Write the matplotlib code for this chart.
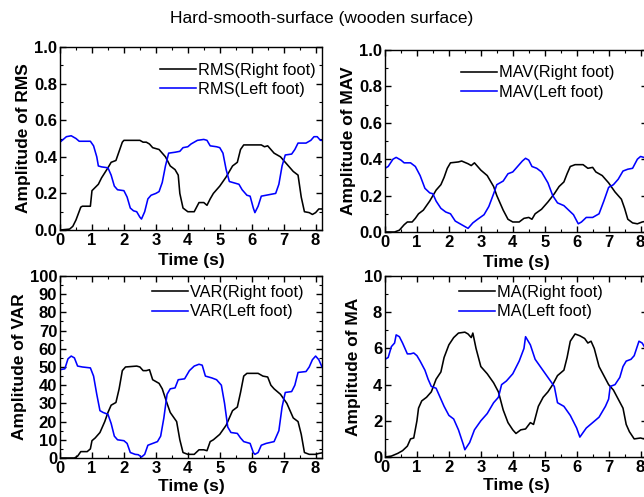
import matplotlib
matplotlib.use("Agg")
import matplotlib.pyplot as plt
from matplotlib.ticker import MultipleLocator, FormatStrFormatter

plt.rcParams['font.family'] = ['Liberation Sans', 'DejaVu Sans']

# ---------------- RMS ----------------
rms_right_t = [0, 0.3, 0.4, 0.5, 0.65, 0.7, 0.95, 1.0, 1.2, 1.3, 1.5, 1.6, 1.75, 1.85, 1.95, 2.0, 2.5,
               2.6, 2.7, 2.8, 2.9, 3.1, 3.3, 3.45, 3.6, 3.7, 3.75, 3.85, 4.0, 4.2, 4.35, 4.5, 4.6, 4.7,
               4.8, 5.0, 5.2, 5.4, 5.55, 5.65, 5.75, 6.3, 6.4, 6.5, 6.6, 6.7, 6.9, 7.1, 7.3, 7.45, 7.55,
               7.65, 7.8, 7.9, 8.0, 8.1, 8.2]
rms_right_y = [0.0, 0.005, 0.02, 0.055, 0.125, 0.13, 0.13, 0.215, 0.25, 0.285, 0.34, 0.37, 0.38, 0.43, 0.48,
               0.49, 0.49, 0.48, 0.48, 0.47, 0.45, 0.44, 0.40, 0.35, 0.33, 0.30, 0.20, 0.12, 0.10, 0.10,
               0.15, 0.15, 0.135, 0.17, 0.20, 0.24, 0.29, 0.35, 0.37, 0.44, 0.465, 0.465, 0.455, 0.46,
               0.44, 0.42, 0.40, 0.36, 0.32, 0.30, 0.18, 0.10, 0.095, 0.085, 0.095, 0.115, 0.115]
rms_left_t = [0, 0.2, 0.35, 0.5, 0.6, 0.95, 1.05, 1.15, 1.2, 1.3, 1.5, 1.6, 1.7, 1.8, 2.0, 2.1, 2.2, 2.3,
              2.4, 2.5, 2.55, 2.65, 2.75, 2.85, 3.0, 3.1, 3.2, 3.3, 3.4, 3.6, 3.75, 3.85, 4.0, 4.1, 4.3,
              4.5, 4.6, 4.7, 4.9, 5.0, 5.1, 5.2, 5.3, 5.5, 5.6, 5.7, 5.85, 5.95, 6.05, 6.1, 6.2, 6.3,
              6.45, 6.6, 6.75, 6.85, 6.95, 7.05, 7.25, 7.35, 7.45, 7.7, 7.85, 7.95, 8.05, 8.15, 8.2]
rms_left_y = [0.48, 0.51, 0.515, 0.50, 0.485, 0.485, 0.46, 0.40, 0.35, 0.345, 0.34, 0.30, 0.24, 0.22,
              0.215, 0.18, 0.12, 0.105, 0.10, 0.07, 0.06, 0.10, 0.17, 0.19, 0.20, 0.21, 0.26, 0.35, 0.42,
              0.425, 0.43, 0.45, 0.455, 0.47, 0.49, 0.495, 0.49, 0.46, 0.455, 0.45, 0.42, 0.33, 0.265,
              0.255, 0.25, 0.22, 0.19, 0.185, 0.12, 0.095, 0.13, 0.185, 0.19, 0.195, 0.20, 0.25, 0.35,
              0.41, 0.415, 0.44, 0.475, 0.475, 0.49, 0.51, 0.51, 0.49, 0.49]

# ---------------- MAV ----------------
mav_right_t = [0, 0.3, 0.45, 0.6, 0.7, 0.85, 0.95, 1.05, 1.2, 1.4, 1.6, 1.75, 1.85, 1.95, 2.05, 2.3, 2.4,
               2.6, 2.7, 2.8, 3.0, 3.2, 3.4, 3.5, 3.7, 3.85, 4.0, 4.2, 4.35, 4.5, 4.6, 4.7, 4.9, 5.1,
               5.3, 5.45, 5.6, 5.7, 5.8, 5.95, 6.2, 6.35, 6.5, 6.6, 6.8, 7.0, 7.2, 7.4, 7.5, 7.6, 7.75,
               7.9, 8.05, 8.2]
mav_right_y = [0.0, 0.0, 0.01, 0.04, 0.055, 0.055, 0.075, 0.10, 0.12, 0.17, 0.23, 0.26, 0.30, 0.35, 0.38,
               0.385, 0.39, 0.375, 0.365, 0.38, 0.34, 0.31, 0.25, 0.20, 0.12, 0.07, 0.055, 0.055, 0.075,
               0.08, 0.07, 0.10, 0.125, 0.165, 0.21, 0.25, 0.275, 0.32, 0.36, 0.37, 0.37, 0.35, 0.355,
               0.33, 0.31, 0.27, 0.22, 0.18, 0.13, 0.07, 0.05, 0.045, 0.055, 0.06]
mav_left_t = [0, 0.1, 0.25, 0.35, 0.5, 0.6, 0.8, 0.95, 1.1, 1.25, 1.4, 1.5, 1.6, 1.75, 1.9, 2.05, 2.2,
              2.35, 2.5, 2.6, 2.75, 2.9, 3.1, 3.25, 3.4, 3.5, 3.7, 3.85, 4.0, 4.15, 4.3, 4.4, 4.5, 4.6,
              4.75, 4.9, 5.1, 5.25, 5.4, 5.6, 5.75, 5.9, 6.05, 6.15, 6.3, 6.5, 6.7, 6.85, 7.0, 7.15,
              7.3, 7.45, 7.6, 7.75, 7.9, 8.0, 8.1, 8.2]
mav_left_y = [0.35, 0.36, 0.40, 0.41, 0.395, 0.38, 0.38, 0.36, 0.31, 0.24, 0.215, 0.21, 0.17, 0.13, 0.11,
              0.10, 0.06, 0.045, 0.03, 0.02, 0.05, 0.07, 0.095, 0.14, 0.21, 0.26, 0.28, 0.32, 0.33, 0.36,
              0.39, 0.405, 0.395, 0.36, 0.35, 0.33, 0.27, 0.20, 0.16, 0.145, 0.12, 0.095, 0.045, 0.055,
              0.08, 0.08, 0.10, 0.17, 0.245, 0.26, 0.29, 0.335, 0.345, 0.35, 0.40, 0.415, 0.41, 0.40]

# ---------------- VAR ----------------
var_right_t = [0, 0.45, 0.55, 0.65, 0.85, 0.95, 1.0, 1.1, 1.25, 1.4, 1.5, 1.6, 1.75, 1.85, 1.95, 2.05,
               2.4, 2.5, 2.6, 2.7, 2.8, 2.9, 3.1, 3.2, 3.35, 3.45, 3.55, 3.65, 3.75, 3.85, 4.0, 4.2, 4.35,
               4.5, 4.6, 4.7, 4.8, 5.0, 5.2, 5.4, 5.55, 5.65, 5.75, 5.85, 6.2, 6.35, 6.5, 6.6, 6.7, 6.9,
               7.1, 7.3, 7.45, 7.55, 7.65, 7.8, 8.0, 8.1, 8.2]
var_right_y = [0, 0, 1.0, 3.5, 3.5, 5, 9.5, 11, 14, 20, 25, 29, 30.5, 38, 48, 50, 50.5, 50, 48, 48, 48.5,
               43, 41, 38, 30, 25, 22.5, 20, 10, 3, 2, 2, 4.5, 4.5, 4, 9, 10, 13, 18, 26, 28, 36, 45, 46.5,
               46.5, 45, 44.5, 40, 38, 35, 30, 22, 20, 13, 3, 2, 2, 2.5, 2.8]
var_left_t = [0, 0.15, 0.25, 0.35, 0.45, 0.55, 0.7, 0.95, 1.05, 1.15, 1.25, 1.35, 1.5, 1.6, 1.7, 1.8,
              2.0, 2.1, 2.2, 2.35, 2.45, 2.55, 2.65, 2.75, 2.9, 3.05, 3.15, 3.25, 3.35, 3.45, 3.6, 3.7,
              3.9, 4.05, 4.2, 4.35, 4.45, 4.55, 4.75, 4.9, 5.05, 5.15, 5.25, 5.35, 5.55, 5.65, 5.75,
              5.95, 6.05, 6.1, 6.2, 6.3, 6.45, 6.7, 6.85, 6.95, 7.05, 7.25, 7.35, 7.45, 7.7, 7.8, 7.9,
              8.0, 8.1, 8.2]
var_left_y = [48.5, 49, 54.5, 56, 55, 50.5, 50, 49.5, 45, 35, 26, 25, 24, 19, 12, 10, 9.5, 8, 3, 2, 1.8,
              0.5, 2, 7, 8, 9, 12, 22, 35, 38, 38.5, 43, 43.5, 48, 50.5, 51.5, 51, 45, 44, 43, 40, 30,
              17, 14, 13.5, 11, 9, 8, 3, 2, 3, 7, 8, 9, 15, 28, 36, 36.5, 40, 47, 47.5, 50, 54, 56, 54, 50]

# ---------------- MA ----------------
ma_right_t = [0, 0.2, 0.4, 0.55, 0.7, 0.8, 0.9, 1.0, 1.05, 1.15, 1.3, 1.45, 1.6, 1.75, 1.85, 2.0, 2.15,
              2.3, 2.5, 2.6, 2.7, 2.75, 2.85, 3.0, 3.2, 3.4, 3.55, 3.7, 3.85, 4.0, 4.1, 4.25, 4.4, 4.55,
              4.65, 4.8, 4.95, 5.1, 5.25, 5.4, 5.6, 5.7, 5.8, 5.95, 6.1, 6.25, 6.35, 6.45, 6.55, 6.7,
              6.85, 7.0, 7.15, 7.3, 7.45, 7.55, 7.65, 7.8, 8.0, 8.1, 8.2]
ma_right_y = [0, 0.05, 0.2, 0.35, 0.6, 1.0, 1.05, 2.0, 2.7, 3.1, 3.3, 3.6, 4.3, 4.7, 5.5, 6.2, 6.6, 6.85,
              6.9, 6.8, 6.6, 6.85, 6.0, 5.0, 4.6, 4.1, 3.6, 2.6, 1.9, 1.5, 1.3, 1.5, 1.55, 1.9, 1.8, 2.8,
              3.3, 3.6, 4.0, 4.5, 4.8, 5.5, 6.4, 6.8, 6.7, 6.55, 6.3, 6.4, 6.0, 5.0, 4.5, 4.0, 3.7, 3.2,
              2.7, 1.8, 1.4, 1.0, 1.05, 1.0, 1.2]
ma_left_t = [0, 0.1, 0.2, 0.3, 0.35, 0.45, 0.55, 0.7, 0.8, 0.9, 1.0, 1.1, 1.25, 1.35, 1.45, 1.6, 1.7,
             1.85, 2.0, 2.15, 2.3, 2.45, 2.5, 2.65, 2.8, 3.0, 3.2, 3.4, 3.55, 3.65, 3.8, 4.0, 4.2, 4.35,
             4.4, 4.55, 4.7, 4.9, 5.1, 5.3, 5.4, 5.6, 5.8, 6.0, 6.1, 6.3, 6.5, 6.7, 6.9, 7.0, 7.05, 7.2,
             7.35, 7.45, 7.55, 7.7, 7.8, 7.95, 8.05, 8.15, 8.2]
ma_left_y = [5.4, 5.5, 6.1, 6.3, 6.75, 6.65, 6.3, 5.7, 5.7, 5.75, 5.6, 5.3, 4.8, 4.3, 3.9, 3.8, 3.4, 2.8,
             2.3, 2.1, 1.5, 0.7, 0.4, 0.8, 1.5, 2.0, 2.4, 3.0, 3.3, 4.0, 4.2, 4.6, 5.3, 6.0, 6.65, 6.2,
             5.4, 4.9, 4.4, 3.9, 3.0, 2.8, 2.3, 1.6, 1.1, 1.6, 1.9, 2.2, 2.8, 3.2, 3.9, 4.0, 4.4, 5.0,
             5.3, 5.4, 5.6, 6.4, 6.3, 6.0, 6.0]

panels = [
    ("RMS", rms_right_t, rms_right_y, rms_left_t, rms_left_y, 1.0, 0.2, 0.1, "%.1f"),
    ("MAV", mav_right_t, mav_right_y, mav_left_t, mav_left_y, 1.0, 0.2, 0.1, "%.1f"),
    ("VAR", var_right_t, var_right_y, var_left_t, var_left_y, 100, 10, 5, "%d"),
    ("MA", ma_right_t, ma_right_y, ma_left_t, ma_left_y, 10, 2, 1, "%d"),
]

positions = [
    [0.0932, 0.5372, 0.4068, 0.3682],
    [0.5978, 0.5332, 0.4068, 0.3662],
    [0.0932, 0.0785, 0.4068, 0.3662],
    [0.5978, 0.0805, 0.4068, 0.3640],
]
legend_anchor = [(0.382, 0.915), (0.290, 0.915), (0.351, 0.952), (0.282, 0.952)]
xlabel_pads = [4, 4, 2, 2]

fig = plt.figure(figsize=(6.44, 4.97), dpi=100)
fig.text(0.5, 0.963, "Hard-smooth-surface (wooden surface)", ha="center", va="center", fontsize=12.5)

for (name, rt, ry, lt, ly, ymax, maj, mnr, fmt), pos, anc, xpad in zip(panels, positions, legend_anchor, xlabel_pads):
    ax = fig.add_axes(pos)
    ax.plot(rt, ry, color="black", lw=1.15, label=f"{name}(Right foot)")
    ax.plot(lt, ly, color="#0000ff", lw=1.15, label=f"{name}(Left foot)")
    ax.set_xlim(0, 8.2)
    ax.set_ylim(0, ymax)
    ax.xaxis.set_major_locator(MultipleLocator(1))
    ax.xaxis.set_minor_locator(MultipleLocator(0.5))
    ax.yaxis.set_major_locator(MultipleLocator(maj))
    ax.yaxis.set_minor_locator(MultipleLocator(mnr))
    ax.yaxis.set_major_formatter(FormatStrFormatter(fmt))
    ax.tick_params(which="both", direction="in", top=True, right=True)
    ax.tick_params(which="major", length=4, width=1)
    ax.tick_params(which="minor", length=2, width=0.8)
    ax.tick_params(axis="both", labelsize=12, pad=2)
    for lab in ax.get_xticklabels() + ax.get_yticklabels():
        lab.set_fontweight("bold")
    for sp in ax.spines.values():
        sp.set_linewidth(1.0)
    ax.set_xlabel("Time (s)", fontsize=12.5, fontweight="bold", labelpad=xpad)
    ax.set_ylabel(f"Amplitude of {name}", fontsize=12.5, fontweight="bold", labelpad=2)
    ax.legend(loc="upper left", bbox_to_anchor=anc, frameon=False, fontsize=11.8,
              handlelength=2.2, handletextpad=0.12, labelspacing=0.28,
              borderpad=0, borderaxespad=0)

fig.savefig("out.png", dpi=100)
